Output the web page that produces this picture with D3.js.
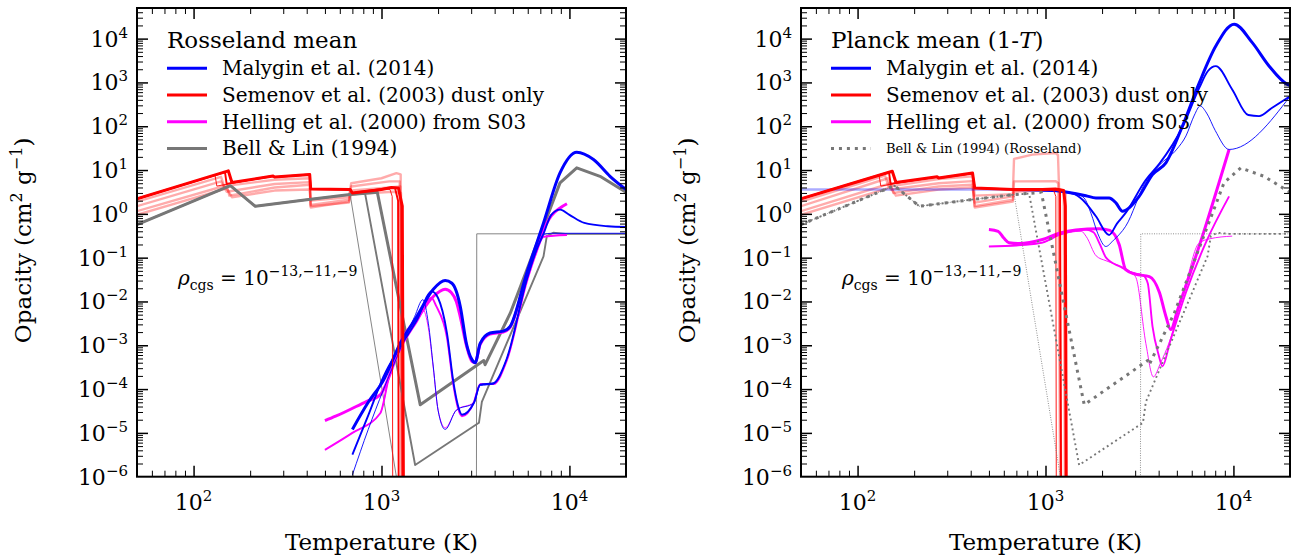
<!DOCTYPE html>
<html>
<head>
<meta charset="utf-8">
<script src="https://cdn.jsdelivr.net/npm/d3@7"></script>
<style>
  body { margin: 0; background: #fff; }
  svg text { font-family: "DejaVu Serif", serif; fill: #000; white-space: pre; }
</style>
</head>
<body>
<svg id="fig" width="1301" height="558"></svg>
<script>
// ---------------------------------------------------------------
// Mean opacities versus temperature, rho = 1e-13, 1e-11, 1e-9 g/cm^3
// Each curve: [temperature (K), opacity (cm^2/g)]
// ---------------------------------------------------------------

// axis ranges and tick labels
const tempDomain = [50, 20000];
const opacityDomain = [1e-6, 5e4];
const tempExponents = [2, 3, 4];
const opacityExponents = [-6, -5, -4, -3, -2, -1, 0, 1, 2, 3, 4];

// Bell & Lin (1994), shared by both panels
const bellLinThin = [[50,0.57],[157,4.4],[213,1.49],[400,2.1],[681,2.75],[1200,1e-6],[1250,4e-7],[3200,4e-7],[3213,0.35],[20000,0.35]];
const bellLinMed = [[50,0.57],[157,4.4],[213,1.49],[400,2.1],[681,2.75],[818,2.9],[1510,1.85e-6],[3300,1.7e-5],[3420,5.1e-5],[7280,0.107],[7580,0.31],[8200,0.37],[9500,0.35],[20000,0.35]];
const bellLinThick = [[50,0.57],[157,4.4],[213,1.49],[400,2.1],[681,2.75],[950,3.1],[1607,4.4e-5],[3500,4.5e-4],[3560,3.6e-4],[4844,5.4e-3],[7278,0.52],[8910,5.1],[10940,11.2],[14550,7.2],[20000,3.1]];

// Rosseland mean: Semenov et al. (2003) dust only
const semRossThin = [[50,2.2],[130,7.7],[133,4.3],[160,5.0],[265,7.3],[270,6.9],[415,7.9],[420,3.7],[681,3.6],[700,3.0],[1050,3.7],[1110,3.6],[1140,2.5],[1148,1e-7]];
const semRossMed = [[50,2.2],[147,9.0],[150,4.8],[160,5.1],[265,7.3],[270,6.9],[415,7.9],[420,3.7],[681,3.6],[700,3.0],[1100,3.9],[1180,3.9],[1225,2.0],[1235,1e-7]];
const semRossThick = [[50,2.2],[153,9.6],[160,5.2],[265,7.3],[270,6.9],[415,7.9],[420,3.7],[681,3.6],[700,3.0],[1000,3.6],[1130,4.0],[1230,3.9],[1290,1.5],[1310,1e-7]];
const semRossAlt1 = [[50,1.9],[140,7.0],[146,4.0],[165,4.6],[270,6.0],[415,6.5],[420,2.0],[670,2.4],[690,5.0],[1000,6.5],[1200,8.5],[1265,8.0],[1290,1e-7]];
const semRossAlt2 = [[50,1.5],[140,5.5],[150,3.2],[270,4.8],[415,5.3],[420,1.6],[670,2.1],[690,4.2],[1100,5.5],[1250,5.5],[1280,1e-7]];
const semRossAlt3 = [[50,1.15],[150,4.5],[155,2.6],[270,4.0],[415,4.6],[420,1.4],[670,1.9],[690,3.4],[1100,4.0],[1260,4.2],[1300,1e-7]];
const semRossAlt4 = [[50,0.95],[150,3.8],[160,2.4],[270,3.4],[415,3.6],[420,1.5],[670,1.8],[690,2.8],[1150,3.2],[1270,3.0],[1305,1e-7]];

// Rosseland mean: Malygin et al. (2014)
const malRossThin = [[700,1.1e-6],[850,1.2e-5],[1023,9.6e-5],[1257,8e-4],[1500,4.5e-3],[1660,0.011],[1775,3.2e-3],[1887,3.2e-4],[2000,3.3e-5],[2182,1.2e-5],[2500,3.3e-5],[3100,4.8e-5],[3350,1.2e-4],[3940,1.3e-4],[4645,5e-4],[5930,0.03],[6670,0.14],[7280,0.34],[8000,0.36],[20000,0.36]];
const malRossMed = [[700,3.2e-6],[850,2.5e-5],[1023,1.9e-4],[1257,9.3e-4],[1545,3.8e-3],[1850,0.017],[2000,0.012],[2230,1.9e-3],[2415,1.4e-4],[2560,4e-5],[2680,2.6e-5],[3100,4.8e-5],[3350,1.26e-4],[3940,1.36e-4],[4645,5e-4],[5930,0.032],[6670,0.15],[7280,0.35],[8000,0.95],[8910,1.25],[10000,0.95],[12000,0.62],[16000,0.52],[20000,0.5]];
const malRossThick = [[700,1.2e-5],[850,5e-5],[1026,1.6e-4],[1257,1.1e-3],[1545,4.6e-3],[1887,0.019],[2182,0.030],[2370,0.026],[2624,7.8e-3],[2830,1.1e-3],[3030,4.7e-4],[3150,4.0e-4],[3350,1.1e-3],[3780,1.9e-3],[4450,2.1e-3],[4840,2.7e-3],[5930,0.045],[7280,0.62],[8910,8.6],[10940,25.5],[13430,17.4],[16440,7.2],[20000,3.6]];

// Rosseland mean: Helling et al. (2000) from S03
const helRossThin = [[500,4.1e-6],[700,1.0e-5],[985,2.8e-5],[1100,2e-4],[1257,8e-4],[1500,3.5e-3],[1660,6.5e-3],[1775,2.5e-3],[1887,3e-4],[2000,3.3e-5],[2182,1.3e-5],[2500,3.3e-5],[3100,5e-5],[3350,1.3e-4],[3940,1.3e-4],[4645,4.5e-4],[5930,0.028],[6670,0.13],[7280,0.3],[9700,0.33]];
const helRossMed = [[500,4.1e-6],[700,1.0e-5],[985,2.8e-5],[1100,2e-4],[1257,8e-4],[1545,3.5e-3],[1850,0.012],[1950,8e-3],[2230,1.5e-3],[2415,1.2e-4],[2560,3.5e-5],[2680,2.4e-5],[3100,5e-5],[3350,1.3e-4],[3940,1.3e-4],[4645,4.5e-4],[5930,0.028],[6670,0.13],[7280,0.3],[9700,0.33]];
const helRossThick = [[500,1.9e-5],[570,2.4e-5],[830,5.2e-5],[985,7.4e-5],[1130,2.7e-4],[1257,1.1e-3],[1545,4e-3],[1887,0.013],[2182,0.019],[2350,0.016],[2500,0.01],[2624,4.5e-3],[2830,1e-3],[3030,4.3e-4],[3150,4.0e-4],[3350,1.05e-3],[3780,1.8e-3],[4450,2.0e-3],[4840,2.6e-3],[5930,0.04],[7000,0.3],[8000,0.9],[9000,1.4],[9700,1.7]];

// Planck mean: Semenov et al. (2003) dust only
const semPlThin = [[50,2.2],[130,7.7],[133,4.3],[160,5.0],[265,7.0],[270,6.6],[409,8.2],[420,3.9],[670,3.6],[1100,3.6],[1135,2.5],[1142,1e-7]];
const semPlMed = [[50,2.2],[147,8.9],[150,4.8],[160,5.1],[265,7.0],[270,6.6],[409,8.4],[420,3.9],[670,3.6],[1130,3.6],[1195,3.3],[1212,1e-7]];
const semPlThick = [[50,2.2],[153,9.4],[160,5.2],[265,7.0],[270,6.6],[409,8.6],[420,3.9],[670,3.6],[964,3.6],[1130,3.7],[1250,3.4],[1275,1.5],[1290,1e-7]];
const semPlAlt1 = [[50,1.9],[140,7.5],[146,4.2],[270,6.2],[409,7.2],[420,2.6],[670,2.8],[680,18],[850,22.5],[1130,24.5],[1165,22],[1185,2.5],[1215,1e-7]];
const semPlAlt2 = [[50,1.5],[145,6.5],[150,3.6],[270,5.0],[409,5.6],[420,1.5],[670,2.1],[680,5.5],[1130,5.6],[1170,5.0],[1200,1e-7]];
const semPlAlt3 = [[50,1.15],[150,5.0],[155,3.0],[270,4.2],[409,4.6],[420,1.4],[670,1.9],[680,3.2],[1130,3.5],[1250,3.3],[1270,1e-7]];
const semPlAlt4 = [[50,0.95],[150,4.0],[160,2.6],[270,3.6],[409,4.0],[420,1.8],[670,2.5],[680,3.4],[1200,3.6],[1280,3.0],[1295,1e-7]];

// Planck mean: Malygin et al. (2014)
const malPlLowT = [[50,3.6],[700,3.6]];
const malPlThin = [[700,3.6],[1090,3.4],[1450,2.9],[1605,2.3],[1750,1.0],[1900,0.35],[2095,0.18],[2300,0.25],[2670,0.52],[3420,5.5],[4040,13],[5000,30],[5590,60],[6200,180],[6650,290],[7200,200],[8000,80],[9480,29.5],[20000,480]];
const malPlMed = [[700,3.6],[1090,3.4],[1400,2.9],[1575,2.1],[1855,0.88],[2180,0.33],[2400,0.6],[2670,1.05],[3420,6.0],[4040,14],[5350,95],[6580,750],[7300,1800],[8060,2350],[9850,690],[12000,180],[13700,170],[16000,260],[20000,480]];
const malPlThick = [[700,3.6],[1090,3.4],[1640,2.6],[1855,2.3],[2180,2.3],[2370,1.78],[2570,1.15],[2800,1.4],[3150,2.5],[3710,7.9],[4370,14.6],[5350,100],[6580,980],[8060,6760],[10090,21400],[12600,8100],[15500,2350],[19370,900],[20000,850]];

// Planck mean: Helling et al. (2000) from S03
const helPlThin = [[500,0.18],[700,0.19],[964,0.22],[1183,0.33],[1550,0.40],[1650,0.3],[1860,0.11],[2100,0.085],[2370,0.07],[2800,0.05],[3030,0.035],[3420,1.1e-3],[3750,1.9e-4],[4100,4e-4],[4530,1.1e-3],[5590,0.026],[6530,0.21],[7500,0.27],[9850,0.31]];
const helPlMed = [[500,0.18],[700,0.19],[964,0.22],[1183,0.33],[1640,0.44],[1800,0.38],[1950,0.2],[2100,0.1],[2500,0.062],[2900,0.045],[3300,0.04],[3500,0.026],[3710,2.7e-3],[4000,6e-4],[4190,3.3e-4],[4600,1.2e-3],[5590,0.016],[7130,0.22],[9480,2.5]];
const helPlThick = [[500,0.44],[560,0.40],[600,0.28],[640,0.22],[720,0.21],[964,0.26],[1183,0.36],[1450,0.43],[1930,0.46],[2200,0.42],[2466,0.2],[2672,0.053],[3000,0.042],[3570,0.037],[4040,0.016],[4370,4.6e-3],[4640,2.3e-3],[5050,6.5e-3],[6840,0.31],[9480,29.5]];

// ---------------------------------------------------------------
const SERIF = '"DejaVu Serif", serif';
const NBSP = "\u00a0";
const BLUE = "#0000ff", RED = "#ff0000", MAG = "#ff00ff", GRAY = "#777777";
const THICK = 3, MED = 1.9, THIN = 0.9;
const dotted = w => `${w},${(w * 1.65).toFixed(2)}`;

const rossSeries = [
  { data: semRossAlt1, color: RED, width: 2.4, opacity: 0.33 },
  { data: semRossAlt2, color: RED, width: 2.4, opacity: 0.33 },
  { data: semRossAlt3, color: RED, width: 2.4, opacity: 0.33 },
  { data: semRossAlt4, color: RED, width: 2.4, opacity: 0.33 },
  { data: bellLinThin, color: GRAY, width: THIN },
  { data: bellLinMed, color: GRAY, width: MED },
  { data: bellLinThick, color: GRAY, width: THICK },
  { data: helRossThin, color: MAG, width: THIN, smooth: true },
  { data: helRossMed, color: MAG, width: MED, smooth: true },
  { data: helRossThick, color: MAG, width: THICK, smooth: true },
  { data: malRossThin, color: BLUE, width: THIN, smooth: true },
  { data: malRossMed, color: BLUE, width: MED, smooth: true },
  { data: malRossThick, color: BLUE, width: THICK, smooth: true },
  { data: semRossThin, color: RED, width: THIN },
  { data: semRossMed, color: RED, width: MED },
  { data: semRossThick, color: RED, width: THICK }
];

const planckSeries = [
  { data: semPlAlt1, color: RED, width: 2.4, opacity: 0.33 },
  { data: semPlAlt2, color: RED, width: 2.4, opacity: 0.33 },
  { data: semPlAlt3, color: RED, width: 2.4, opacity: 0.33 },
  { data: semPlAlt4, color: RED, width: 2.4, opacity: 0.33 },
  { data: malPlLowT, color: BLUE, width: 2.4, opacity: 0.33 },
  { data: helPlThin, color: MAG, width: THIN, smooth: true },
  { data: helPlMed, color: MAG, width: MED, smooth: true },
  { data: helPlThick, color: MAG, width: THICK, smooth: true },
  { data: malPlThin, color: BLUE, width: THIN, smooth: true },
  { data: malPlMed, color: BLUE, width: MED, smooth: true },
  { data: malPlThick, color: BLUE, width: THICK, smooth: true },
  { data: semPlThin, color: RED, width: THIN },
  { data: semPlMed, color: RED, width: MED },
  { data: semPlThick, color: RED, width: THICK },
  { data: bellLinThin, color: GRAY, width: THIN, dash: dotted(THIN) },
  { data: bellLinMed, color: GRAY, width: MED, dash: dotted(MED) },
  { data: bellLinThick, color: GRAY, width: THICK, dash: dotted(THICK) }
];

const rossLegend = [
  { label: "Malygin et al. (2014)", color: BLUE },
  { label: "Semenov et al. (2003) dust only", color: RED },
  { label: "Helling et al. (2000) from S03", color: MAG },
  { label: "Bell & Lin (1994)", color: GRAY }
];
const planckLegend = [
  { label: "Malygin et al. (2014)", color: BLUE },
  { label: "Semenov et al. (2003) dust only", color: RED },
  { label: "Helling et al. (2000) from S03", color: MAG },
  { label: "Bell & Lin (1994) (Rosseland)", color: GRAY, dash: dotted(3), small: true }
];

const plotTop = 8, plotBottom = 476.7;
const panels = [
  { id: "ross", x0: 137, x1: 626, series: rossSeries, legend: rossLegend,
    title: [{ s: "Rosseland mean" }] },
  { id: "planck", x0: 801, x1: 1290, series: planckSeries, legend: planckLegend,
    title: [{ s: "Planck mean (1-" }, { s: "T", italic: true }, { s: ")" }] }
];

const svg = d3.select("#fig");
const defs = svg.append("defs");

// plain serif text element
function addText(parent, size) {
  return parent.append("text").attr("font-family", SERIF).style("font-family", SERIF)
    .style("font-size", size + "px").attr("fill", "#000");
}

// a run of text pieces (sub/superscripts, italics) laid out as separate text elements
function richText(parent, x, y, parts, baseSize, anchor = "start", transform = null) {
  const g = parent.append("g");
  if (transform) g.attr("transform", transform);
  let cursor = 0;
  parts.forEach(pt => {
    const t = addText(g, pt.size || baseSize)
      .attr("x", cursor).attr("y", pt.dy || 0).text(pt.s);
    if (pt.italic) t.style("font-style", "italic");
    cursor += t.node().getComputedTextLength();
  });
  const shift = anchor === "end" ? -cursor : anchor === "middle" ? -cursor / 2 : 0;
  g.selectAll("text").each(function () {
    const el = d3.select(this);
    el.attr("x", +el.attr("x") + shift + (transform ? 0 : x)).attr("y", +el.attr("y") + (transform ? 0 : y));
  });
  return g;
}

function minorTicks(lo, hi) {
  const out = [];
  for (let e = Math.floor(Math.log10(lo)); e <= Math.ceil(Math.log10(hi)); e++) {
    for (let k = 2; k <= 9; k++) {
      const v = k * Math.pow(10, e);
      if (v > lo * 1.001 && v < hi * 0.999) out.push(v);
    }
  }
  return out;
}

const powParts = e => [{ s: "10" }, { s: String(e).replace("-", "\u2212"), size: 15, dy: -9 }];

panels.forEach(p => {
  const x = d3.scaleLog().domain(tempDomain).range([p.x0, p.x1]);
  const y = d3.scaleLog().domain(opacityDomain).range([plotBottom, plotTop]);
  const g = svg.append("g").attr("class", "panel-" + p.id);

  defs.append("clipPath").attr("id", "clip-" + p.id)
    .append("rect").attr("x", p.x0).attr("y", plotTop).attr("width", p.x1 - p.x0).attr("height", plotBottom - plotTop);

  const curves = g.append("g").attr("clip-path", `url(#clip-${p.id})`);
  p.series.forEach(s => {
    const line = d3.line().x(d => x(d[0])).y(d => y(d[1]))
      .curve(s.smooth ? d3.curveMonotoneX : d3.curveLinear);
    curves.append("path").datum(s.data)
      .attr("d", line)
      .attr("fill", "none")
      .attr("stroke", s.color)
      .attr("stroke-width", s.width)
      .attr("stroke-opacity", s.opacity || 1)
      .attr("stroke-linejoin", "round")
      .attr("stroke-dasharray", s.dash || null);
  });

  // inward ticks on all four sides
  const xMaj = tempExponents.map(e => Math.pow(10, e));
  const xMin = minorTicks(tempDomain[0], tempDomain[1]);
  const yMaj = opacityExponents.map(e => Math.pow(10, e)).filter(v => v > opacityDomain[0] && v < opacityDomain[1]);
  const yMin = minorTicks(opacityDomain[0], opacityDomain[1]);
  const axes = [
    [d3.axisBottom(x), `translate(0,${plotBottom})`, xMaj, xMin],
    [d3.axisTop(x), `translate(0,${plotTop})`, xMaj, xMin],
    [d3.axisLeft(y), `translate(${p.x0},0)`, yMaj, yMin],
    [d3.axisRight(y), `translate(${p.x1},0)`, yMaj, yMin]
  ];
  axes.forEach(([ax, tr, maj, min]) => {
    [[min, 6, 1], [maj, 11, 1.5]].forEach(([vals, len, w]) => {
      const ga = g.append("g").attr("transform", tr)
        .call(ax.tickValues(vals).tickSize(-len).tickSizeOuter(0).tickFormat(""));
      ga.select(".domain").remove();
      ga.selectAll("text").remove();
      ga.selectAll("line").attr("stroke", "#000").attr("stroke-width", w);
    });
  });

  // tick labels
  opacityExponents.forEach(e => richText(g, p.x0 - 9, y(Math.pow(10, e)) + 8, powParts(e), 22, "end"));
  tempExponents.forEach(e => richText(g, x(Math.pow(10, e)), 510, powParts(e), 22, "middle"));

  // frame
  g.append("rect").attr("x", p.x0).attr("y", plotTop)
    .attr("width", p.x1 - p.x0).attr("height", plotBottom - plotTop)
    .attr("fill", "none").attr("stroke", "#000").attr("stroke-width", 2);

  // axis titles
  const cx = (p.x0 + p.x1) / 2;
  addText(g, 23).attr("x", cx).attr("y", 550).attr("text-anchor", "middle").text("Temperature (K)");
  richText(g, 0, 0, [
    { s: "Opacity (cm" }, { s: "2", size: 16, dy: -9 }, { s: NBSP + "g" },
    { s: "\u22121", size: 16, dy: -9 }, { s: ")" }
  ], 23, "middle", `translate(${p.x0 - 106},${(plotTop + plotBottom) / 2 - 2}) rotate(-90)`);

  // legend
  const lx = p.x0 + 30;
  richText(g, lx, 48, p.title, 23);
  p.legend.forEach((it, i) => {
    const ly = 68.3 + i * 26.7;
    g.append("line").attr("x1", lx).attr("x2", lx + 40).attr("y1", ly).attr("y2", ly)
      .attr("stroke", it.color).attr("stroke-width", 3).attr("stroke-dasharray", it.dash || null);
    addText(g, it.small ? 13 : 20).attr("x", lx + 55).attr("y", it.small ? ly + 4.5 : ly + 7).text(it.label);
  });

  // density annotation
  richText(g, p.x0 + 41, 285, [
    { s: "\u03c1", italic: true }, { s: "cgs", size: 14, dy: 5 }, { s: NBSP + "=" + NBSP + "10" },
    { s: "\u221213,\u221211,\u22129", size: 14, dy: -9 }
  ], 20);
});
</script>
</body>
</html>
